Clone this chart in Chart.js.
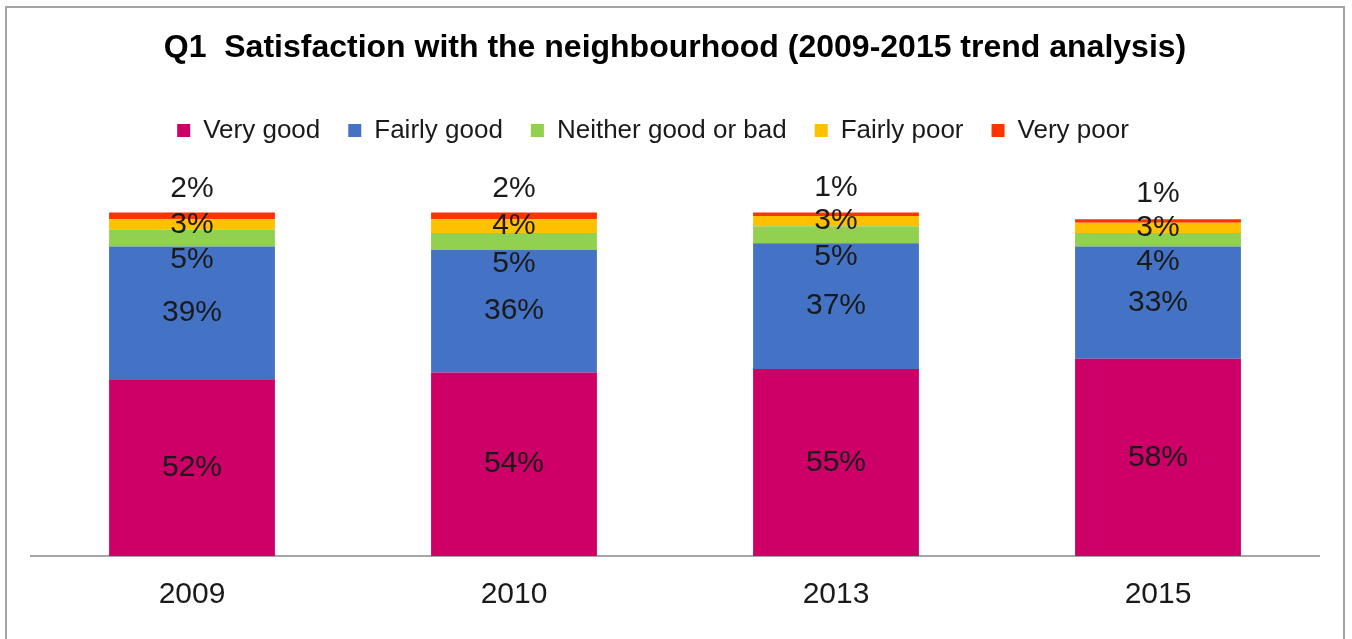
<!DOCTYPE html>
<html lang="en">
<head>
  <meta charset="UTF-8" />
  <title>Q1 Satisfaction with the neighbourhood</title>
  <script src="https://cdnjs.cloudflare.com/ajax/libs/Chart.js/4.4.1/chart.umd.min.js"></script>
  <style>
    *{margin:0;padding:0;box-sizing:border-box}
    body{background:#fff;width:1352px;height:639px;overflow:hidden;position:relative}
    .frame{position:absolute;left:5px;top:6px;width:1340px;height:700px;border:2px solid #a3a3a3;pointer-events:none}
    #chart{position:absolute;left:0;top:0}
  </style>
</head>
<body>
  <canvas id="chart" width="1352" height="639"></canvas>
  <div class="frame"></div>

  <script>
    // Data (percent of respondents)
    const years = ['2009', '2010', '2013', '2015'];
    const veryGood = [52, 54, 55, 58];
    const fairlyGood = [39, 36, 37, 33];
    const neither = [5, 5, 5, 4];
    const fairlyPoor = [3, 4, 3, 3];
    const veryPoor = [2, 2, 1, 1];

    const FONT = "'Liberation Sans', Arial, sans-serif";

    // simple inline data label plugin (no datalabels plugin available)
    const barLabels = {
      id: 'barLabels',
      afterDatasetsDraw(chart) {
        const ctx = chart.ctx;
        ctx.save();
        ctx.font = '30px ' + FONT;
        ctx.fillStyle = '#1a1a1a';
        ctx.textAlign = 'center';
        ctx.textBaseline = 'middle';
        chart.data.datasets.forEach((ds, i) => {
          const meta = chart.getDatasetMeta(i);
          if (meta.hidden) return;
          meta.data.forEach((bar, j) => {
            const y = (bar.y + bar.base) / 2 + (ds.labelShift || 0);
            ctx.fillText(ds.data[j] + '%', bar.x, y);
          });
        });
        ctx.restore();
      }
    };

    // legend sits a little left of centre in the original
    const legendNudge = {
      id: 'legendNudge',
      afterLayout(chart) {
        chart.legend.left -= 22;
        chart.legend.right -= 22;
      }
    };

    new Chart(document.getElementById('chart'), {
      type: 'bar',
      data: {
        labels: years,
        datasets: [
          {label: 'Very good', data: veryGood, backgroundColor: '#cc0066'},
          {label: 'Fairly good', data: fairlyGood, backgroundColor: '#4472c4'},
          {label: 'Neither good or bad', data: neither, backgroundColor: '#92d050', labelShift: 22},
          {label: 'Fairly poor', data: fairlyPoor, backgroundColor: '#ffc000'},
          {label: 'Very poor', data: veryPoor, backgroundColor: '#ff3300', labelShift: -27}
        ]
      },
      options: {
        responsive: false,
        animation: false,
        barPercentage: 0.515,
        categoryPercentage: 1,
        layout: {padding: {left: 31, right: 33, top: 0, bottom: 5}},
        plugins: {
          title: {
            display: true,
            text: 'Q1  Satisfaction with the neighbourhood (2009-2015 trend analysis)',
            color: '#000',
            font: {family: FONT, size: 32, weight: 'bold'},
            padding: {top: 29, bottom: 22}
          },
          legend: {
            position: 'top',
            labels: {
              color: '#1a1a1a',
              font: {family: FONT, size: 26},
              boxWidth: 13,
              boxHeight: 13,
              padding: 28
            }
          },
          tooltip: {enabled: false}
        },
        scales: {
          x: {
            stacked: true,
            grid: {display: false, drawTicks: false},
            border: {display: true, color: '#a6a6a6', width: 2},
            ticks: {color: '#1a1a1a', font: {family: FONT, size: 30}, padding: 21}
          },
          y: {
            stacked: true,
            display: false,
            min: 0,
            max: 118.4
          }
        }
      },
      plugins: [barLabels, legendNudge]
    });
  </script>
</body>
</html>
